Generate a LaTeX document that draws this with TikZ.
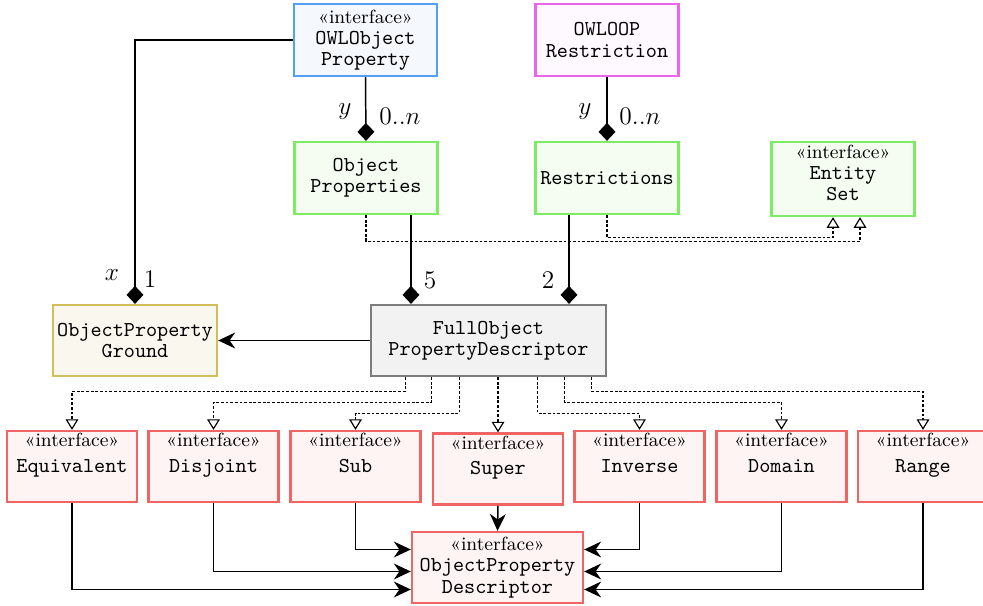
\documentclass[tikz,border=0pt]{standalone}
\usepackage{fontspec}
\usetikzlibrary{arrows.meta,positioning,calc}
\newcommand{\iface}{{\rmfamily\small «interface»}}
\definecolor{colorOWL}{RGB}{85,160,245}
\definecolor{colorOOP}{RGB}{235,100,235}
\definecolor{colorSET}{RGB}{125,235,100}
\definecolor{colorGND}{RGB}{210,190,90}
\definecolor{colorFUL}{RGB}{125,125,125}
\definecolor{colorDSC}{RGB}{240,100,100}
\tikzset{
   every path/.style={>=Stealth},
   cls/.style={draw,line width=1.1pt,align=center,inner sep=0pt,
      font=\ttfamily\fontsize{10}{10}\selectfont},
   owlc/.style={cls,draw=colorOWL,fill=colorOWL!6,minimum width=67.5pt,minimum height=34pt},
   oopc/.style={cls,draw=colorOOP,fill=colorOOP!4,minimum width=67.5pt,minimum height=34pt},
   setc/.style={cls,draw=colorSET,fill=colorSET!8,minimum width=67.5pt,minimum height=34pt},
   gndc/.style={cls,draw=colorGND,fill=colorGND!10,minimum width=77.5pt,minimum height=33.5pt},
   fulc/.style={cls,draw=colorFUL,fill=black!5,minimum width=111pt,minimum height=33.5pt},
   dscc/.style={cls,draw=colorDSC,fill=colorDSC!7,minimum width=80.8pt,minimum height=33.5pt},
   ifcc/.style={cls,draw=colorDSC,fill=colorDSC!7,text width=61.4pt,text height=7.4pt,text depth=26.1pt},
   comp/.style={-{Diamond[length=8.5pt,width=8pt]},line width=0.7pt},
   assoc/.style={-{Stealth[length=8pt,width=7.5pt]},line width=0.7pt},
   real/.style={-{Triangle[open,length=5pt,width=6pt,fill=white]},line width=0.55pt,dash pattern=on 1.3pt off 0.9pt},
   mult/.style={font=\large,inner sep=0pt},
}

\begin{document}
\begin{tikzpicture}[x=0.4724pt,y=-0.4724pt]
    \useasboundingbox (0,0) rectangle (983,606);

    \node[owlc] (owl)      at (365.5,40)  {\iface\\OWLObject\\Property};
    \node[oopc] (owloop)   at (607,40)    {OWLOOP\\Restriction};
    \node[setc] (objprops) at (366,178)   {Object\\Properties};
    \node[setc] (restr)    at (607,178)   {Restrictions};
    \node[setc,text width=67.5pt,text height=7.8pt,text depth=27.2pt,minimum height=0pt] (entity) at (843,179) {\iface\\Entity\\Set};
    \node[gndc] (ground)   at (135,340.5) {ObjectProperty\\Ground};
    \node[fulc] (full)     at (488.5,340.5) {FullObject\\PropertyDescriptor};

    \node[ifcc] (equiv) at (72,466.5)    {\iface\\[2pt]Equivalent};
    \node[ifcc] (disj)  at (213.5,466.5) {\iface\\[2pt]Disjoint};
    \node[ifcc] (sub)   at (355.5,466.5) {\iface\\[2pt]Sub};
    \node[ifcc] (super) at (498,469)     {\iface\\[2pt]Super};
    \node[ifcc] (inv)   at (639.5,466.5) {\iface\\[2pt]Inverse};
    \node[ifcc] (dom)   at (781.5,466.5) {\iface\\[2pt]Domain};
    \node[ifcc] (range) at (923,466.5)   {\iface\\[2pt]Range};
    \node[dscc] (opd)   at (497.5,567.5) {\iface\\ObjectProperty\\Descriptor};

    % multiplicities
    \node[mult] (ya) at (345,112) {$y$};
    \node[mult] (na) at (400,116) {$0..n$};
    \node[mult] (yb) at (585,112) {$y$};
    \node[mult] (nb) at (640,116) {$0..n$};
    \node[mult] (xg) at (112,275) {$x$};
    \node[mult] (og) at (150,279) {$1$};
    \node[mult] (fp) at (430,280) {$5$};
    \node[mult] (tr) at (548,280) {$2$};

    % composition
    \draw[comp] (owl.south) -- (objprops.north);
    \draw[comp] (owloop.south) -- (restr.north);
    \draw[comp] (owl.west) -| (ground.north);
    \draw[comp] (objprops.south) ++(45,0) coordinate (op5) -- (op5 |- full.north);
    \draw[comp] (restr.south) ++(-38,0) coordinate (re2) -- (re2 |- full.north);

    % realization
    \draw[real] (objprops.south) -- ++(0,26) -| ($(entity.south)+(17,0)$);
    \draw[real] (restr.south) -- ++(0,22) -| ($(entity.south)+(-10,0)$);
    \draw[real] (full.south) ++(-83,0) -- ++(0,14) -| (equiv.north);
    \draw[real] (full.south) ++(-57,0) -- ++(0,25) -| (disj.north);
    \draw[real] (full.south) ++(-29,0) -- ++(0,36) -| (sub.north);
    \draw[real] (full.south -| super.north) -- (super.north);
    \draw[real] (full.south) ++(49,0) -- ++(0,36) -| (inv.north);
    \draw[real] (full.south) ++(76,0) -- ++(0,25) -| (dom.north);
    \draw[real] (full.south) ++(103,0) -- ++(0,14) -| (range.north);

    % association
    \draw[assoc] (full.west) -- (ground.east);
    \draw[assoc] (equiv.south) |- ($(opd.west)+(0,22)$);
    \draw[assoc] (disj.south) |- ($(opd.west)+(0,4)$);
    \draw[assoc] (sub.south) |- ($(opd.west)+(0,-18)$);
    \draw[assoc] (super.south) -- (opd.north);
    \draw[assoc] (inv.south) |- ($(opd.east)+(0,-18)$);
    \draw[assoc] (dom.south) |- ($(opd.east)+(0,4)$);
    \draw[assoc] (range.south) |- ($(opd.east)+(0,22)$);
\end{tikzpicture}
\end{document}
